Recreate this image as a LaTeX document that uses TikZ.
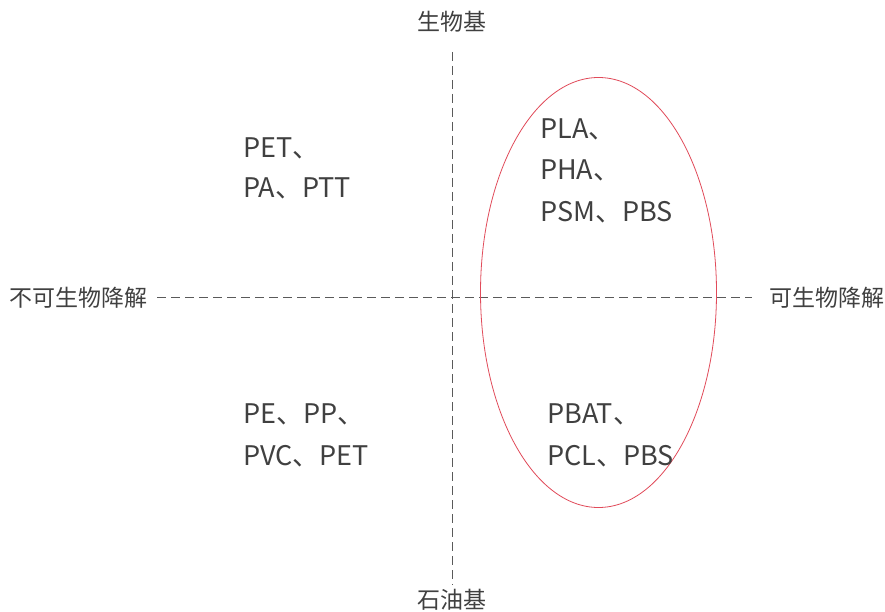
\documentclass[tikz,border=0pt]{standalone}
\usepackage{fontspec}
\setmainfont{Noto Sans CJK SC}
\definecolor{ringred}{RGB}{225,75,90}
\definecolor{txtgray}{RGB}{64,64,64}
\definecolor{axgray}{RGB}{90,90,90}
\begin{document}
\begin{tikzpicture}[x=1pt,y=1pt,
  axis/.style={draw=axgray, line width=1pt, dash pattern=on 9pt off 5pt},
  axlabel/.style={inner sep=0pt, text=txtgray, font=\fontsize{23}{26}\selectfont},
  item/.style={inner sep=0pt, anchor=base west, text=txtgray, font=\fontsize{27}{30}\selectfont},
  ring/.style={draw=ringred, line width=0.8pt}]
\useasboundingbox[fill=white] (0,0) rectangle (885,611);
% axes
\coordinate (vt) at (452,559);
\coordinate (vb) at (452,26);
\coordinate (hl) at (157,313);
\coordinate (hr) at (752,313);
\draw[axis] (vt) -- (vb);
\draw[axis] (hl) -- (hr);
% axis labels
\node[axlabel] (top) at (452,589) {生物基};
\node[axlabel] (bot) at (452,11) {石油基};
\node[axlabel, anchor=west] (left) at (9,313) {不可生物降解};
\node[axlabel, anchor=east] (right) at (885,313) {可生物降解};
% ellipse
\draw[ring] (598.5,318.5) ellipse [x radius=118, y radius=215];
% items
\node[item] (a1) at (243,453) {PET、};
\node[item] (a2) at (243,413) {PA、PTT};
\node[item] (b1) at (540,472) {PLA、};
\node[item] (b2) at (540,431) {PHA、};
\node[item] (b3) at (540,389) {PSM、PBS};
\node[item] (c1) at (243,188) {PE、PP、};
\node[item] (c2) at (243,146) {PVC、PET};
\node[item] (d1) at (547,188) {PBAT、};
\node[item] (d2) at (547,146) {PCL、PBS};
\end{tikzpicture}
\end{document}
